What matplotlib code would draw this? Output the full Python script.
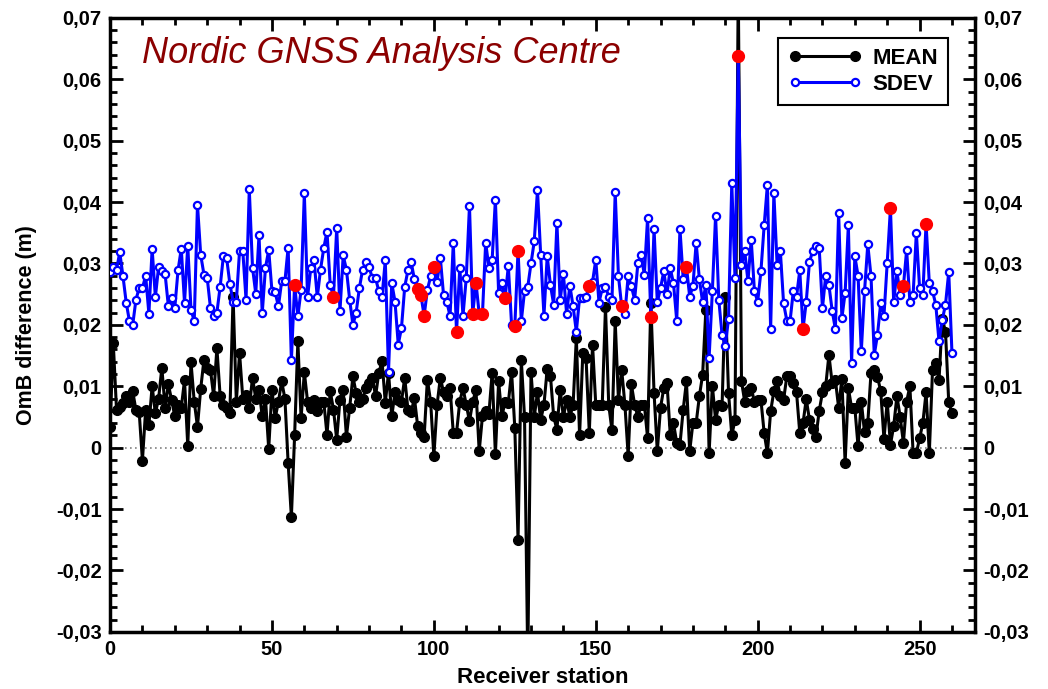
import matplotlib
matplotlib.use("Agg")
import matplotlib.pyplot as plt
from matplotlib.ticker import MultipleLocator, FuncFormatter
import numpy as np

plt.rcParams['font.family'] = ['Liberation Sans', 'DejaVu Sans']

# OmB statistics per receiver station, in mm
mean_mm = [
    3.4, 17.0, 6.2, 6.7, 7.3, 8.4, 7.5, 9.2, 6.1, 5.8,
    -2.1, 6.2, 3.7, 10.0, 5.6, 8.0, 13.0, 6.5, 10.3, 7.8,
    5.1, 7.0, 6.5, 11.0, 0.3, 13.9, 7.5, 3.4, 9.6, 14.3,
    13.0, 12.7, 8.4, 16.2, 8.4, 7.0, 6.5, 5.6, 24.6, 7.5,
    15.4, 8.0, 8.6, 6.5, 11.4, 8.0, 9.4, 5.1, 8.0, -0.2,
    9.4, 4.8, 7.5, 10.8, 8.0, -2.5, -11.3, 2.0, 17.3, 4.8,
    12.3, 7.5, 6.5, 7.8, 6.0, 7.5, 7.5, 2.1, 9.2, 6.2,
    1.3, 7.8, 9.4, 1.8, 6.5, 11.6, 8.9, 7.5, 8.0, 9.7,
    10.5, 11.4, 8.4, 12.2, 14.1, 7.3, 12.2, 5.1, 9.0, 7.8,
    7.5, 11.4, 6.2, 5.8, 8.1, 3.5, 2.4, 1.8, 11.1, 7.5,
    -1.4, 7.0, 11.4, 9.0, 8.4, 9.7, 2.4, 2.4, 7.5, 9.7,
    7.0, 4.3, 7.5, 9.4, -0.6, 5.1, 6.0, 5.5, 12.2, -1.1,
    10.8, 5.1, 7.5, 7.3, 12.4, 3.2, -15.0, 14.3, 5.0, -35.0,
    12.3, 5.0, 9.0, 4.5, 7.0, 12.8, 11.7, 5.1, 2.9, 9.4,
    5.0, 7.8, 5.0, 7.0, 17.9, 2.0, 15.4, 14.6, 2.4, 16.8,
    7.0, 7.0, 7.0, 22.9, 7.0, 2.8, 20.6, 7.8, 12.7, 7.0,
    -1.3, 10.3, 7.0, 5.0, 7.0, 7.0, 1.6, 23.6, 8.9, -0.6,
    6.5, 9.7, 10.5, 2.1, 4.0, 0.8, 0.5, 6.2, 10.8, -0.6,
    4.0, 4.0, 8.4, 11.9, 22.5, -0.9, 10.1, 4.5, 7.0, 6.8,
    24.6, 8.9, 2.0, 4.5, 75.0, 10.8, 7.5, 9.2, 9.7, 7.5,
    7.8, 7.8, 2.4, -0.9, 5.9, 9.2, 10.8, 8.4, 7.8, 11.6,
    11.6, 10.5, 9.0, 2.4, 4.0, 7.9, 4.5, 3.0, 1.8, 6.0,
    9.0, 10.0, 15.1, 10.5, 11.0, 6.5, 11.2, -2.5, 9.7, 6.5,
    6.5, 0.2, 7.5, 2.5, 4.0, 12.2, 12.7, 11.5, 9.2, 1.4,
    7.5, 0.5, 3.5, 8.4, 5.0, 0.8, 7.5, 10.0, -0.9, -0.9,
    1.5, 4.0, 9.0, -0.9, 12.7, 13.8, 11.0, 21.0, 18.9, 7.4,
    5.6,
]

sdev_mm = [
    28.6, 29.5, 29.0, 31.8, 27.9, 23.6, 20.6, 20.0, 24.1, 26.0,
    26.0, 28.0, 21.8, 32.4, 24.5, 29.5, 28.7, 28.3, 23.1, 24.4,
    22.8, 28.9, 32.4, 23.6, 32.9, 22.5, 20.6, 39.6, 31.4, 28.2,
    27.7, 22.8, 21.4, 22.0, 26.2, 31.2, 30.9, 26.7, 23.8, 23.8,
    32.1, 32.0, 24.1, 42.1, 29.3, 25.1, 34.6, 21.9, 29.3, 32.2,
    25.5, 25.3, 23.0, 27.1, 27.1, 32.6, 14.2, 26.5, 21.4, 25.7,
    41.4, 24.5, 29.3, 30.5, 24.5, 29.0, 32.5, 35.2, 26.5, 24.6,
    35.8, 22.2, 31.3, 29.0, 24.1, 20.0, 22.0, 26.0, 29.0, 30.2,
    29.4, 27.6, 27.6, 25.5, 24.6, 30.5, 12.4, 26.8, 23.8, 16.8,
    19.5, 26.2, 28.9, 30.2, 27.4, 25.8, 24.8, 21.5, 25.7, 27.9,
    29.4, 27.0, 30.9, 24.8, 23.8, 21.4, 33.4, 18.8, 29.3, 21.5,
    27.6, 39.4, 21.8, 26.9, 21.8, 21.7, 33.4, 29.3, 30.6, 40.4,
    25.2, 26.8, 24.4, 29.6, 20.0, 19.8, 32.1, 20.6, 25.5, 26.2,
    30.0, 33.6, 42.0, 31.3, 21.5, 31.2, 26.5, 23.3, 36.6, 24.0,
    28.3, 21.8, 26.4, 23.0, 18.9, 24.4, 24.4, 24.6, 26.3, 27.0,
    30.6, 23.6, 26.0, 26.2, 24.6, 24.0, 41.6, 28.0, 23.0, 21.8,
    28.0, 26.3, 24.1, 30.0, 31.3, 28.2, 37.4, 21.3, 35.6, 23.7,
    26.0, 28.7, 25.1, 29.2, 26.8, 20.7, 35.6, 27.5, 29.5, 24.6,
    26.3, 33.4, 27.4, 23.7, 26.5, 14.6, 25.5, 37.8, 24.0, 18.4,
    16.6, 21.0, 43.1, 27.6, 63.8, 29.8, 32.0, 27.1, 33.9, 25.5,
    23.8, 28.7, 36.2, 42.8, 19.3, 41.4, 29.8, 32.0, 23.5, 20.7,
    20.6, 25.5, 24.6, 28.9, 19.3, 23.8, 30.3, 32.0, 32.9, 32.5,
    22.7, 28.0, 26.5, 22.3, 19.3, 38.3, 21.1, 25.2, 36.2, 13.8,
    31.2, 28.0, 15.7, 25.5, 33.1, 27.9, 15.1, 18.4, 23.6, 21.5,
    30.1, 39.0, 23.7, 28.7, 24.9, 26.3, 32.2, 23.8, 24.9, 35.0,
    26.0, 24.9, 36.5, 26.8, 25.5, 23.3, 17.3, 20.8, 23.3, 28.6,
    15.4,
]

# stations highlighted in red on the SDEV curve
red_idx = [57, 69, 95, 96, 97, 100, 107, 112, 113, 115, 122, 125, 126,
           148, 158, 167, 178, 194, 214, 241, 245, 252]

station = np.arange(len(mean_mm))
mean = np.array(mean_mm) / 1000.0
sdev = np.array(sdev_mm) / 1000.0

fig = plt.figure(figsize=(10.48, 6.89), dpi=100)
ax = fig.add_axes([0.105, 0.083, 0.825, 0.891])

ax.axhline(0, color='gray', lw=1.2, ls=(0, (1, 2)), zorder=1)
ax.plot(station, mean, color='black', lw=2.2, marker='o', ms=7,
        mfc='black', mec='black', label='MEAN', zorder=2)
ax.plot(station, sdev, color='#0000ff', lw=2.2, marker='o', ms=5.2,
        mfc='white', mec='#0000ff', mew=1.6, label='SDEV', zorder=3)
ax.plot(station[red_idx], sdev[red_idx], 'o', color='#ff0000', ms=8.5,
        mec='#ff0000', zorder=4)

ax.set_xlim(0, 267)
ax.set_ylim(-0.03, 0.07)
ax.xaxis.set_major_locator(MultipleLocator(50))
ax.xaxis.set_minor_locator(MultipleLocator(10))
ax.yaxis.set_major_locator(MultipleLocator(0.01))
ax.yaxis.set_minor_locator(MultipleLocator(0.002))


def comma_fmt(v, pos):
    if abs(v) < 1e-9:
        return '0'
    return ('%.2f' % v).replace('.', ',')


ax.yaxis.set_major_formatter(FuncFormatter(comma_fmt))
ax.tick_params(which='both', direction='in', top=True, right=True,
               labelright=True, width=2)
ax.tick_params(which='major', length=9, labelsize=14.5, pad=6)
ax.tick_params(which='minor', length=5)
for lab in ax.get_xticklabels() + ax.get_yticklabels():
    lab.set_fontweight('bold')
for t in ax.yaxis.get_major_ticks():
    t.label2.set_fontweight('bold')
for s in ax.spines.values():
    s.set_linewidth(2.5)

ax.set_xlabel('Receiver station', fontsize=16, fontweight='bold', labelpad=6)
ax.set_ylabel('OmB difference (m)', fontsize=15.5, fontweight='bold', labelpad=14)

ax.text(0.037, 0.97, 'Nordic GNSS Analysis Centre', transform=ax.transAxes,
        fontsize=26, fontstyle='italic', color='#8b0000', va='top', ha='left')

leg = ax.legend(loc='upper right', bbox_to_anchor=(0.982, 0.985), numpoints=2,
                fancybox=False, framealpha=1, edgecolor='black',
                prop={'weight': 'bold', 'size': 16}, handlelength=3.3,
                borderpad=0.45, labelspacing=0.2, handletextpad=0.5)
leg.get_frame().set_linewidth(1.5)

fig.savefig('out.png', dpi=100)
